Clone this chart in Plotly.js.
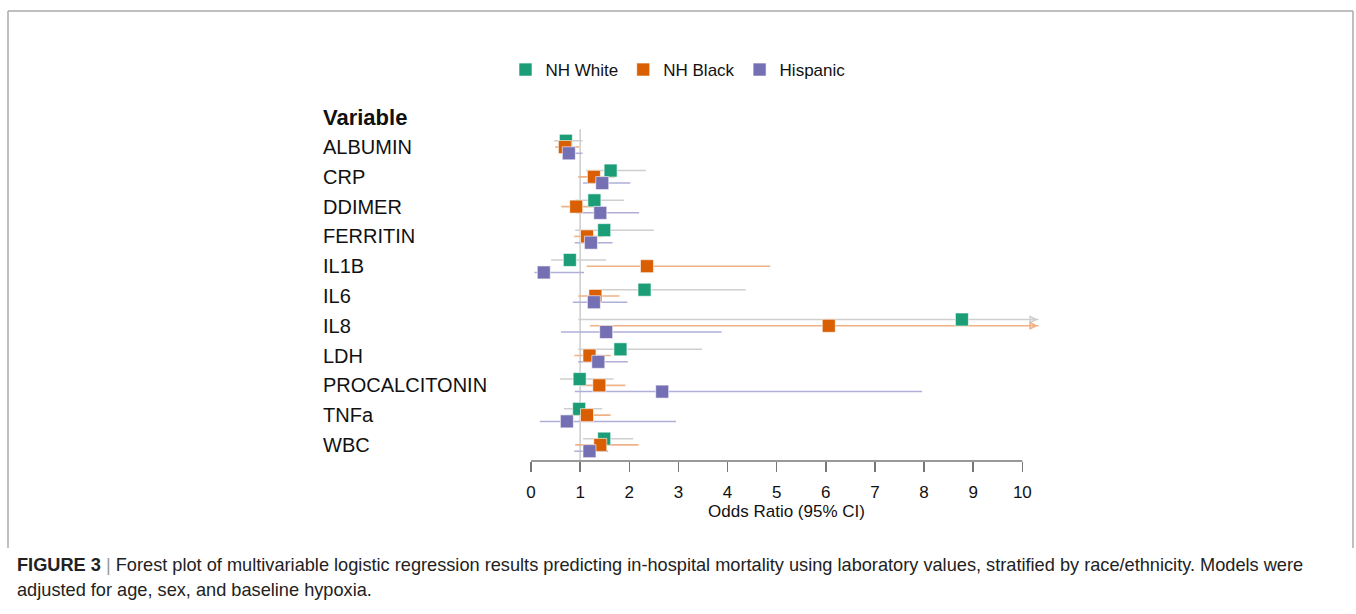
<!DOCTYPE html>
<html>
<head>
<meta charset="utf-8">
<script src="https://cdn.plot.ly/plotly-3.0.1.min.js"></script>
<style>html,body{margin:0;padding:0;background:#fff;}#chart{width:1356px;height:614px;}</style>
</head>
<body>
<div id="chart"></div>
<script>
// ---- data (odds ratio and 95% CI) ----
const categories = ['ALBUMIN','CRP','DDIMER','FERRITIN','IL1B','IL6','IL8','LDH','PROCALCITONIN','TNFa','WBC'];
const groups = ['NH White','NH Black','Hispanic'];

const whiteOR = [0.71,1.62,1.29,1.49,0.79,2.31,8.77,1.82,0.99,0.98,1.49];
const whiteLo = [0.47,1.12,0.90,0.90,0.41,1.22,0.96,0.96,0.59,0.67,1.06];
const whiteHi = [1.05,2.34,1.89,2.50,1.53,4.37,12.0,3.48,1.68,1.45,2.08]; // IL8 upper beyond axis (arrow)

const blackOR = [0.69,1.28,0.92,1.14,2.36,1.31,6.06,1.19,1.39,1.14,1.41];
const blackLo = [0.49,0.96,0.62,0.88,1.13,0.96,1.20,0.88,1.00,0.81,0.90];
const blackHi = [0.98,1.70,1.34,1.47,4.87,1.80,12.0,1.62,1.92,1.62,2.19]; // IL8 upper beyond axis (arrow)

const hispOR = [0.77,1.45,1.41,1.22,0.26,1.28,1.53,1.37,2.67,0.73,1.19];
const hispLo = [0.59,1.06,0.92,0.89,0.07,0.85,0.61,0.96,0.89,0.18,0.88];
const hispHi = [1.05,2.02,2.20,1.66,1.08,1.96,3.88,1.97,7.96,2.95,1.57];

const xTicks = [0,1,2,3,4,5,6,7,8,9,10];

// ---- styling ----
const markerColors = ['#1b9e77','#d95f02','#7570b3'];
const ciColors = ['#cfcfcf','#efb287','#b1aed8'];
const offsets = [-0.21, 0, 0.21];
const xMax = 10.4, clipAt = 10.33;
const FONT = 'Liberation Sans, Arial, Helvetica, sans-serif';

const series = [
  {or: whiteOR, lo: whiteLo, hi: whiteHi},
  {or: blackOR, lo: blackLo, hi: blackHi},
  {or: hispOR, lo: hispLo, hi: hispHi}
];

const traces = [];
// CI lines
series.forEach((s, g) => {
  const xs = [], ys = [], ax = [], ay = [];
  categories.forEach((c, i) => {
    const y = i + offsets[g];
    const hi = Math.min(s.hi[i], clipAt);
    xs.push(s.lo[i], hi, null); ys.push(y, y, null);
    if (s.hi[i] > 10) { ax.push(clipAt - 0.05); ay.push(y); }
  });
  traces.push({x: xs, y: ys, mode: 'lines', type: 'scatter', showlegend: false, hoverinfo: 'skip',
    line: {color: ciColors[g], width: g === 1 ? 1.6 : 1.5}});
  if (ax.length) {
    traces.push({x: ax, y: ay, mode: 'markers', type: 'scatter', showlegend: false, hoverinfo: 'skip',
      marker: {symbol: 'arrow-right-open', size: 6, color: ciColors[g], line: {color: ciColors[g], width: 1.5}}});
  }
});
// point estimates
series.forEach((s, g) => {
  traces.push({
    x: s.or, y: categories.map((c, i) => i + offsets[g]),
    mode: 'markers', type: 'scatter', name: groups[g],
    marker: {symbol: 'square', size: 13, color: markerColors[g], line: {color: 'rgba(255,255,255,0.6)', width: 1}}
  });
});

const FIG_H = 614, PLOT_TOP = 125, PLOT_BOTTOM = 461;
const py = p => (PLOT_BOTTOM - p) / (PLOT_BOTTOM - PLOT_TOP); // pixel row -> paper y
const px = p => p / 1356;

const annotations = [
  {text: '<b>Variable</b>', xref: 'paper', yref: 'paper', x: px(321), y: py(117), xanchor: 'left', yanchor: 'middle',
   showarrow: false, font: {family: FONT, size: 22, color: '#111'}}
];
categories.forEach((c, i) => annotations.push({
  text: c, xref: 'paper', yref: 'y', x: px(321), y: i, xanchor: 'left', yanchor: 'middle',
  showarrow: false, font: {family: FONT, size: 20, color: '#111'}
}));
annotations.push({
  text: '<b>FIGURE 3</b> <span style="color:#999">|</span> Forest plot of multivariable logistic regression results predicting in-hospital mortality using laboratory values, stratified by race/ethnicity. Models were',
  xref: 'paper', yref: 'paper', x: px(15), y: py(565), xanchor: 'left', yanchor: 'middle',
  showarrow: false, font: {family: FONT, size: 18.2, color: '#222'}
});
annotations.push({
  text: 'adjusted for age, sex, and baseline hypoxia.',
  xref: 'paper', yref: 'paper', x: px(15), y: py(590), xanchor: 'left', yanchor: 'middle',
  showarrow: false, font: {family: FONT, size: 18.2, color: '#222'}
});

const shapes = [
  {type: 'line', xref: 'x', yref: 'y', x0: 1, x1: 1, y0: -0.6, y1: 10.54, line: {color: '#cccccc', width: 1.5}, layer: 'below'},
  {type: 'line', xref: 'x', yref: 'paper', x0: xTicks[0], x1: xTicks[xTicks.length-1], y0: 0, y1: 0, line: {color: '#777', width: 1.5}},
  {type: 'line', xref: 'paper', yref: 'paper', x0: px(8), x1: px(8), y0: py(11), y1: py(548), line: {color: '#aaaaaa', width: 1.5}},
  {type: 'line', xref: 'paper', yref: 'paper', x0: px(8), x1: px(1353), y0: py(11), y1: py(11), line: {color: '#aaaaaa', width: 1.5}},
  {type: 'line', xref: 'paper', yref: 'paper', x0: px(1353), x1: px(1353), y0: py(11), y1: py(548), line: {color: '#aaaaaa', width: 1.5}}
];

const layout = {
  width: 1356, height: FIG_H,
  margin: {l: 0, r: 0, t: PLOT_TOP, b: FIG_H - PLOT_BOTTOM, pad: 0},
  paper_bgcolor: '#fff', plot_bgcolor: '#fff',
  font: {family: FONT, color: '#111'},
  showlegend: true,
  legend: {orientation: 'h', x: 0.5, xanchor: 'center', y: py(70), yanchor: 'middle',
           font: {family: FONT, size: 17, color: '#111'}, bgcolor: 'rgba(0,0,0,0)'},
  xaxis: {
    domain: [px(531), px(1042)], range: [0, xMax], showgrid: false, zeroline: false, showline: false,
    tickvals: xTicks, ticktext: xTicks.map(String), ticks: 'outside', ticklen: 10, tickwidth: 1.5, tickcolor: '#777',
    tickfont: {family: FONT, size: 17, color: '#111'}, ticklabelstandoff: 6,
    title: {text: 'Odds Ratio (95% CI)', font: {family: FONT, size: 17, color: '#111'}, standoff: 2}
  },
  yaxis: {range: [10.54, -0.74], visible: false, showgrid: false, zeroline: false},
  shapes: shapes,
  annotations: annotations
};

Plotly.newPlot('chart', traces, layout, {displayModeBar: false, staticPlot: true});
</script>
</body>
</html>
